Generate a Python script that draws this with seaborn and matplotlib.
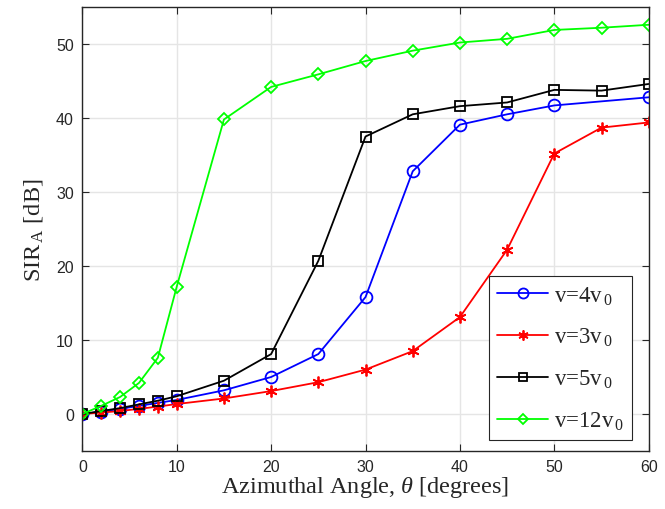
import matplotlib
matplotlib.use("Agg")
import matplotlib.pyplot as plt
import seaborn as sns
import pandas as pd

# ---- data ----
theta_full = [0, 2, 4, 6, 8, 10, 15, 20, 25, 30, 35, 40, 45, 50, 55, 60]
theta_v4 = [0, 2, 4, 6, 8, 10, 15, 20, 25, 30, 35, 40, 45, 50, 60]
sir_v4 = [0.0, 0.3, 0.7, 1.1, 1.5, 1.9, 3.2, 5.0, 8.1, 15.8, 32.8, 39.1, 40.5, 41.7, 42.8]
sir_v3 = [0.0, 0.2, 0.4, 0.7, 1.0, 1.35, 2.1, 3.1, 4.3, 6.0, 8.5, 13.1, 22.2, 35.2, 38.7, 39.4]
sir_v5 = [0.0, 0.4, 0.8, 1.3, 1.8, 2.4, 4.5, 8.1, 20.7, 37.5, 40.5, 41.6, 42.1, 43.8, 43.7, 44.6]
sir_v12 = [0.0, 1.1, 2.3, 4.2, 7.6, 17.2, 39.8, 44.2, 45.9, 47.7, 49.1, 50.2, 50.7, 51.9, 52.2, 52.6]
labels = [r"v=4v$_{\,\mathregular{0}}$", r"v=3v$_{\,\mathregular{0}}$",
          r"v=5v$_{\,\mathregular{0}}$", r"v=12v$_{\,\mathregular{0}}$"]
xticks = [0, 10, 20, 30, 40, 50, 60]
yticks = [0, 10, 20, 30, 40, 50]

series = [
    (theta_v4, sir_v4, "#0000ff", "o", 8.5, labels[0]),
    (theta_full, sir_v3, "#ff0000", (6, 2, 0), 8.5, labels[1]),
    (theta_full, sir_v5, "#000000", "s", 6.5, labels[2]),
    (theta_full, sir_v12, "#00ff00", "D", 6.5, labels[3]),
]

sns.set_theme(style="whitegrid")
plt.rcParams["font.family"] = ["Liberation Sans", "DejaVu Sans"]
plt.rcParams["mathtext.fontset"] = "custom"
plt.rcParams["mathtext.rm"] = "Liberation Serif"
plt.rcParams["mathtext.it"] = "Liberation Serif:italic"

fig = plt.figure(figsize=(6.65, 5.10), dpi=100)
ax = fig.add_axes([0.1238, 0.1137, 0.8517, 0.8706])

for xs, ys, col, mk, ms, lab in series:
    df = pd.DataFrame({"x": xs, "y": ys})
    sns.lineplot(data=df, x="x", y="y", ax=ax, color=col, marker=mk,
                 markersize=ms, markerfacecolor="none", markeredgecolor=col,
                 markeredgewidth=1.3, linewidth=1.3, label=lab)

ax.set_xlim(0, 60)
ax.set_ylim(-5, 55)
ax.set_xticks(xticks)
ax.set_yticks(yticks)
ax.set_facecolor("white")
ax.grid(True, color="#e5e5e5", linewidth=1.0)
for s in ax.spines.values():
    s.set_color("#262626")
    s.set_linewidth(1.0)
    s.set_visible(True)
ax.tick_params(direction="in", length=5, width=0.8, color="#262626",
               labelsize=11.5, labelcolor="#262626", top=True, right=True,
               bottom=True, left=True, pad=6)

ax.set_xlabel(r"Azimuthal Angle, $\mathit{\theta}$ [degrees]",
              fontfamily="Liberation Serif", fontsize=17.5, color="#262626", labelpad=0)
ax.set_ylabel(r"SIR$_{\,\mathregular{A}}$ [dB]",
              fontfamily="Liberation Serif", fontsize=17.5, color="#262626", labelpad=8)

leg = ax.legend(loc="lower right", bbox_to_anchor=(0.970, 0.025), borderaxespad=0,
                prop={"family": "Liberation Serif", "size": 16.5},
                frameon=True, fancybox=False, framealpha=1, edgecolor="#262626",
                handlelength=2.2, labelspacing=0.85, borderpad=0.35,
                handletextpad=0.25, markerscale=0.85)
leg.get_frame().set_linewidth(0.8)

fig.savefig("out.png", dpi=100)
